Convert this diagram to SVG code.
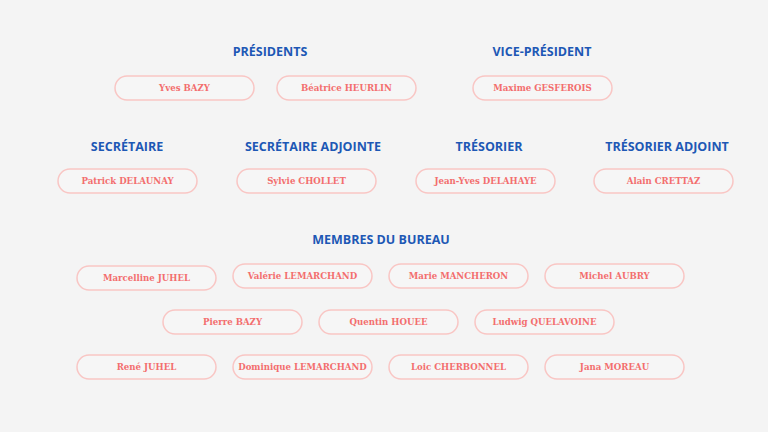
<svg xmlns="http://www.w3.org/2000/svg" width="768" height="432" viewBox="0 0 768 432">
<style>
.h{font-family:"Open Sans","Noto Sans",sans-serif;font-weight:700;font-size:12.5px;fill:#1d58b5;text-anchor:middle}
.p{fill:#f6f6f6;stroke:#f9c6c4;stroke-width:1.5}
.t{font-family:"DejaVu Serif","Liberation Serif",serif;font-weight:600;font-size:8.6px;fill:#f36e6e;text-anchor:middle}
</style>
<rect width="768" height="432" fill="#f4f4f4"/>
<g id="headings">
<text class="h" x="270" y="56">PRÉSIDENTS</text>
<text class="h" x="542" y="56">VICE-PRÉSIDENT</text>
<text class="h" x="127" y="151">SECRÉTAIRE</text>
<text class="h" x="313" y="151">SECRÉTAIRE ADJOINTE</text>
<text class="h" x="489" y="151">TRÉSORIER</text>
<text class="h" x="667" y="151">TRÉSORIER ADJOINT</text>
<text class="h" x="381" y="244">MEMBRES DU BUREAU</text>
</g>
<g id="n1"><rect class="p" x="115" y="76" width="139" height="24" rx="12"/><text class="t" x="184.5" y="91.2">Yves BAZY</text></g>
<g id="n2"><rect class="p" x="277" y="76" width="139" height="24" rx="12"/><text class="t" x="346.5" y="91.2">Béatrice HEURLIN</text></g>
<g id="n3"><rect class="p" x="473" y="76" width="139" height="24" rx="12"/><text class="t" x="542.5" y="91.2">Maxime GESFEROIS</text></g>
<g id="n4"><rect class="p" x="58" y="169" width="139" height="24" rx="12"/><text class="t" x="127.5" y="184.2">Patrick DELAUNAY</text></g>
<g id="n5"><rect class="p" x="237" y="169" width="139" height="24" rx="12"/><text class="t" x="306.5" y="184.2">Sylvie CHOLLET</text></g>
<g id="n6"><rect class="p" x="416" y="169" width="139" height="24" rx="12"/><text class="t" x="485.5" y="184.2">Jean-Yves DELAHAYE</text></g>
<g id="n7"><rect class="p" x="594" y="169" width="139" height="24" rx="12"/><text class="t" x="663.5" y="184.2">Alain CRETTAZ</text></g>
<g id="n8"><rect class="p" x="77" y="266" width="139" height="24" rx="12"/><text class="t" x="146.5" y="281.2">Marcelline JUHEL</text></g>
<g id="n9"><rect class="p" x="233" y="264" width="139" height="24" rx="12"/><text class="t" x="302.5" y="279.2">Valérie LEMARCHAND</text></g>
<g id="n10"><rect class="p" x="389" y="264" width="139" height="24" rx="12"/><text class="t" x="458.5" y="279.2">Marie MANCHERON</text></g>
<g id="n11"><rect class="p" x="545" y="264" width="139" height="24" rx="12"/><text class="t" x="614.5" y="279.2">Michel AUBRY</text></g>
<g id="n12"><rect class="p" x="163" y="310" width="139" height="24" rx="12"/><text class="t" x="232.5" y="325.2">Pierre BAZY</text></g>
<g id="n13"><rect class="p" x="319" y="310" width="139" height="24" rx="12"/><text class="t" x="388.5" y="325.2">Quentin HOUEE</text></g>
<g id="n14"><rect class="p" x="475" y="310" width="139" height="24" rx="12"/><text class="t" x="544.5" y="325.2">Ludwig QUELAVOINE</text></g>
<g id="n15"><rect class="p" x="77" y="355" width="139" height="24" rx="12"/><text class="t" x="146.5" y="370.2">René JUHEL</text></g>
<g id="n16"><rect class="p" x="233" y="355" width="139" height="24" rx="12"/><text class="t" x="302.5" y="370.2">Dominique LEMARCHAND</text></g>
<g id="n17"><rect class="p" x="389" y="355" width="139" height="24" rx="12"/><text class="t" x="458.5" y="370.2">Loic CHERBONNEL</text></g>
<g id="n18"><rect class="p" x="545" y="355" width="139" height="24" rx="12"/><text class="t" x="614.5" y="370.2">Jana MOREAU</text></g>
<g id="connectors"></g>
</svg>
